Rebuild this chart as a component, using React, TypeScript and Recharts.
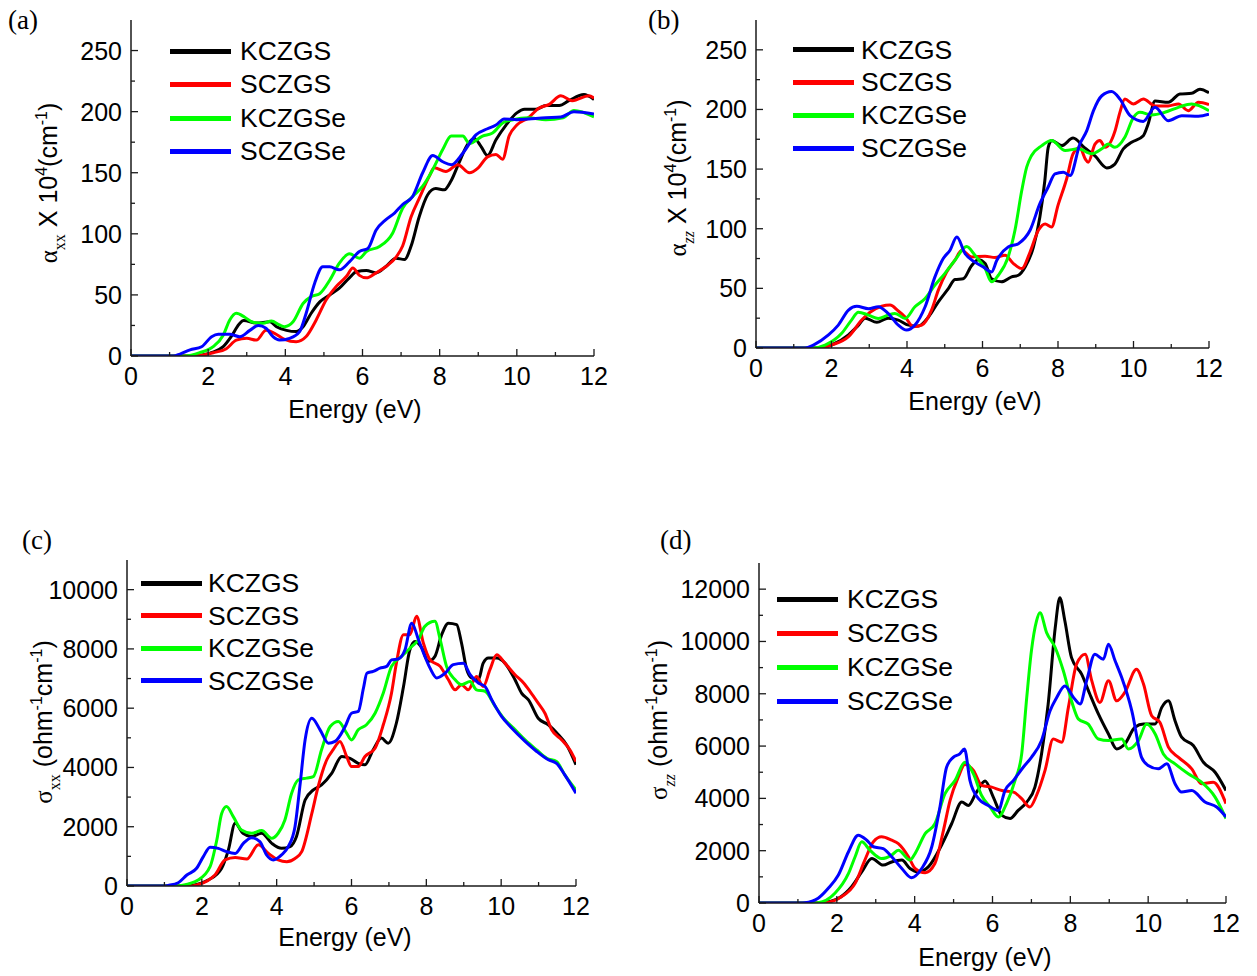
import React from 'react';
import { LineChart, Line, XAxis, YAxis, Legend, Label } from 'recharts';

type Pt = [number, number];

// ---------- shared labels ----------
const seriesNames = ['KCZGS', 'SCZGS', 'KCZGSe', 'SCZGSe'];
const seriesColors = ['#000000', '#ff0000', '#00ff00', '#0000ff'];
const energyTicks = [0, 1, 2, 3, 4, 5, 6, 7, 8, 9, 10, 11, 12];
const alphaTicks = [0, 25, 50, 75, 100, 125, 150, 175, 200, 225, 250];
const sigmaXXTicks = [0, 1000, 2000, 3000, 4000, 5000, 6000, 7000, 8000, 9000, 10000];
const sigmaZZTicks = [0, 1000, 2000, 3000, 4000, 5000, 6000, 7000, 8000, 9000, 10000, 11000, 12000];

// ---------- (a) alpha_xx ----------
const aKCZGS: Pt[] = [[0,0],[1.7,0],[1.87,1],[2.1,3],[2.39,7.6],[2.6,16],[2.8,26],[2.92,29],[3.25,27],[3.6,28],[3.77,24],[4.03,21],[4.28,20],[4.46,24],[4.67,35],[4.9,44.5],[5.15,50],[5.4,55.5],[5.66,64],[5.84,69],[6.1,70],[6.35,68],[6.6,73],[6.87,80],[7.09,79],[7.26,90],[7.47,114],[7.69,132],[7.9,137],[8.12,136],[8.29,143],[8.5,158],[8.72,173],[8.9,178],[9.07,171.6],[9.24,164],[9.46,177],[9.72,189],[10.0,199],[10.2,202],[10.5,202],[10.75,205],[11.1,205],[11.35,209],[11.74,214],[12,210]];
const aSCZGS: Pt[] = [[0,0],[1.6,0],[1.9,1],[2.13,2.7],[2.47,6],[2.73,13],[3.0,14.5],[3.25,13],[3.5,21],[3.72,18.6],[3.98,13.7],[4.28,11.7],[4.54,16],[4.8,29.5],[5.06,46],[5.32,57],[5.58,65],[5.75,72],[5.92,66],[6.1,64],[6.35,68],[6.6,73],[6.87,81],[7.04,90],[7.26,114],[7.47,129],[7.73,147],[7.86,154],[8.16,151],[8.47,156.5],[8.77,150],[9.0,154],[9.24,163],[9.46,165],[9.63,161],[9.8,180],[10.0,189],[10.3,195],[10.58,203],[10.84,206],[11.14,213],[11.44,209],[11.87,213],[12,211]];
const aKCZGSe: Pt[] = [[0,0],[1.4,0],[1.78,2.7],[2.13,7.6],[2.39,17],[2.56,29.5],[2.73,35],[2.95,31.7],[3.16,27.6],[3.42,26.8],[3.64,28.7],[3.85,25.4],[3.98,24],[4.2,28],[4.46,43],[4.67,48.6],[4.89,51],[5.15,62],[5.4,76],[5.66,83.6],[5.92,80],[6.1,85.5],[6.44,89.6],[6.78,100.5],[7.04,121],[7.3,130.6],[7.56,139],[7.82,152.5],[8.08,169],[8.3,180],[8.6,180],[8.77,174],[9.11,180],[9.37,182.5],[9.63,190.7],[9.9,193.4],[10.3,195],[10.75,193.4],[11.2,195],[11.48,201],[12,195.6]];
const aSCZGSe: Pt[] = [[0,0],[1.1,0],[1.27,1.6],[1.53,5],[1.83,7.6],[2.09,15.8],[2.26,17.8],[2.56,17.8],[2.82,15.8],[3.08,21],[3.3,24.9],[3.5,22.7],[3.68,15.8],[3.85,13],[4.11,14.5],[4.37,20],[4.54,35],[4.76,59.6],[4.97,73],[5.15,73],[5.4,70.5],[5.66,77],[5.92,85.5],[6.14,88],[6.35,103],[6.6,111.5],[6.83,117],[7.04,124],[7.3,130.6],[7.56,150],[7.82,164],[8.08,159],[8.3,156.5],[8.6,166],[8.94,181],[9.24,186],[9.46,189],[9.67,194],[10.0,193.4],[10.3,194],[10.75,195],[11.14,195.6],[11.48,200],[12,198]];

// ---------- (b) alpha_zz ----------
const bKCZGS: Pt[] = [[0,0],[1.7,0],[2.0,2.5],[2.45,11],[2.71,19],[2.89,25],[3.2,21.5],[3.5,25],[3.77,23.4],[4.04,19.2],[4.3,18.4],[4.57,26],[4.83,38.7],[5.1,50],[5.27,57.4],[5.49,58],[5.71,69],[5.89,74],[6.07,70.8],[6.24,58],[6.5,55.5],[6.77,59.6],[6.95,61],[7.13,68],[7.35,84.7],[7.52,109.8],[7.65,140],[7.74,168],[7.83,174],[8.1,169.7],[8.4,176],[8.7,168],[8.98,161],[9.29,151],[9.5,154],[9.73,167],[9.95,172.5],[10.26,178],[10.39,188],[10.57,207],[10.92,206],[11.23,213],[11.54,213.5],[11.76,217],[12,214]];
const bSCZGS: Pt[] = [[0,0],[1.7,0],[2.0,2.5],[2.45,9.5],[2.8,23.4],[3.02,30],[3.33,35],[3.55,36],[3.77,31],[3.95,26],[4.17,17.8],[4.39,19.2],[4.65,31.8],[4.83,48.5],[5.05,63.8],[5.27,73.6],[5.45,82],[5.71,76.4],[6.07,77],[6.33,75.8],[6.6,77.8],[6.82,70.8],[7.04,66.6],[7.26,80.5],[7.48,98.7],[7.66,104],[7.83,101.5],[8.0,119.6],[8.23,141.9],[8.4,162.8],[8.58,168],[8.72,158.6],[8.8,155.8],[8.98,171],[9.11,174],[9.25,168.3],[9.51,182],[9.64,197.6],[9.77,208.7],[10.0,204.6],[10.26,208.7],[10.57,203],[10.92,203],[11.19,204.6],[11.45,199],[11.72,206],[12,204]];
const bKCZGSe: Pt[] = [[0,0],[1.5,0],[1.83,2.5],[2.27,12.3],[2.53,23.4],[2.71,30],[2.98,27.6],[3.24,24.8],[3.5,27.6],[3.68,29],[3.95,24.8],[4.21,34.6],[4.48,41.5],[4.74,52.7],[5.0,62.4],[5.27,73.6],[5.58,85],[5.8,77.8],[6.07,66.6],[6.24,55.5],[6.42,61],[6.68,76.4],[6.86,98.7],[7.04,132],[7.17,151.6],[7.3,161.4],[7.57,169.7],[7.83,174],[8.19,165.6],[8.54,167],[8.89,162.8],[9.16,167],[9.33,171],[9.51,168.3],[9.77,176.7],[10.0,193.4],[10.17,197.6],[10.48,195.4],[10.83,197.6],[11.19,201.8],[11.54,204.6],[12,199]];
const bSCZGSe: Pt[] = [[0,0],[1.3,0],[1.52,2.5],[1.92,11],[2.18,19.2],[2.45,31.8],[2.67,35],[2.98,33],[3.24,34.6],[3.5,29],[3.77,19.2],[3.99,15],[4.21,19.2],[4.48,34.6],[4.74,59.6],[4.96,75],[5.14,82],[5.32,93],[5.54,79],[5.8,72],[6.02,68],[6.24,63.8],[6.38,73.6],[6.68,84.7],[6.95,87.5],[7.26,98.7],[7.52,121],[7.74,135],[7.92,146],[8.14,147.4],[8.32,144.6],[8.58,171],[8.76,182],[8.94,199],[9.16,211.5],[9.42,215],[9.64,208.7],[9.91,194.8],[10.26,190],[10.57,201.8],[10.92,190.6],[11.28,194.8],[11.72,194.3],[12,196]];

// ---------- (c) sigma_xx ----------
const cKCZGS: Pt[] = [[0,0],[1.6,0],[1.73,20],[2.17,200],[2.53,600],[2.71,1220],[2.89,2120],[3.1,1780],[3.33,1670],[3.6,1780],[3.87,1440],[4.13,1270],[4.36,1330],[4.53,1670],[4.76,2900],[4.98,3240],[5.2,3410],[5.47,3800],[5.74,4370],[5.96,4310],[6.18,4140],[6.36,4090],[6.58,4600],[6.8,4990],[6.98,4820],[7.2,5500],[7.39,6730],[7.56,7970],[7.7,8250],[7.88,8030],[8.05,7580],[8.23,7750],[8.41,8480],[8.59,8870],[8.81,8820],[8.94,8200],[9.08,7300],[9.21,7020],[9.39,6960],[9.52,7520],[9.66,7690],[9.88,7690],[10.1,7520],[10.37,6960],[10.55,6500],[10.73,6280],[10.99,5660],[11.26,5440],[11.53,5100],[11.75,4760],[12,4090]];
const cSCZGS: Pt[] = [[0,0],[1.7,0],[1.82,20],[2.35,370],[2.62,880],[2.89,960],[3.2,910],[3.51,1390],[3.78,1100],[4.04,880],[4.27,820],[4.49,930],[4.67,1160],[4.94,2450],[5.11,3360],[5.34,4260],[5.51,4600],[5.69,4880],[5.87,4370],[6.0,4030],[6.18,4030],[6.36,4370],[6.63,4650],[6.85,5440],[7.07,6510],[7.2,7520],[7.39,8480],[7.56,8480],[7.74,9100],[7.92,8200],[8.1,7630],[8.37,7410],[8.59,6960],[8.77,6620],[8.94,6790],[9.12,6620],[9.34,7070],[9.52,6730],[9.7,7300],[9.88,7800],[10.1,7520],[10.37,7130],[10.6,6850],[10.77,6570],[10.99,6170],[11.17,5830],[11.35,5270],[11.62,4930],[11.84,4590],[12,4200]];
const cKCZGSe: Pt[] = [[0,0],[1.35,0],[1.46,20],[1.9,200],[2.22,650],[2.4,1550],[2.53,2450],[2.66,2680],[2.84,2340],[3.06,1890],[3.33,1780],[3.6,1870],[3.87,1610],[4.04,1780],[4.22,2230],[4.4,3130],[4.58,3580],[4.8,3640],[4.98,3690],[5.2,4600],[5.43,5380],[5.65,5550],[5.87,5160],[6.0,4930],[6.18,5270],[6.4,5440],[6.63,5830],[6.85,6510],[7.07,7410],[7.34,7750],[7.61,8080],[7.79,8310],[7.96,8760],[8.23,8930],[8.37,8310],[8.54,7410],[8.77,6960],[8.94,6790],[9.17,6900],[9.34,6620],[9.57,6570],[9.84,6060],[10.1,5610],[10.33,5330],[10.64,4930],[10.95,4590],[11.22,4310],[11.48,4200],[11.7,3750],[12,3240]];
const cSCZGSe: Pt[] = [[0,0],[1.0,0],[1.1,20],[1.37,110],[1.6,370],[1.86,600],[2.04,990],[2.22,1310],[2.44,1270],[2.66,1160],[2.89,1100],[3.11,1440],[3.33,1630],[3.55,1500],[3.73,1050],[3.91,880],[4.13,1050],[4.31,1330],[4.49,2000],[4.62,3360],[4.76,4930],[4.94,5660],[5.16,5270],[5.38,4820],[5.56,4880],[5.83,5380],[6.0,5830],[6.18,5890],[6.32,6680],[6.41,7180],[6.58,7240],[6.76,7350],[6.94,7410],[7.07,7630],[7.25,7660],[7.43,7970],[7.61,8870],[7.79,8310],[7.96,7750],[8.1,7350],[8.28,7020],[8.5,7180],[8.72,7470],[8.99,7520],[9.17,7130],[9.39,6850],[9.57,6730],[9.75,6280],[10.01,5720],[10.28,5330],[10.64,4880],[10.95,4540],[11.26,4260],[11.48,4140],[11.7,3750],[12,3130]];

// ---------- (d) sigma_zz ----------
const dKCZGS: Pt[] = [[0,0],[1.5,0],[1.61,10],[2.04,180],[2.38,620],[2.64,1190],[2.9,1700],[3.19,1450],[3.41,1570],[3.67,1640],[3.88,1320],[4.09,1190],[4.35,1380],[4.69,2210],[4.95,3030],[5.21,3860],[5.38,3730],[5.59,4240],[5.81,4660],[6.02,4050],[6.24,3350],[6.45,3230],[6.66,3540],[6.88,3860],[7.09,4430],[7.26,5700],[7.43,7600],[7.61,10500],[7.73,11670],[7.86,10780],[8.03,9380],[8.29,8750],[8.5,7990],[8.72,7230],[8.98,6460],[9.19,5890],[9.4,6080],[9.66,6720],[9.88,6840],[10.18,6840],[10.35,7480],[10.52,7730],[10.69,6970],[10.86,6340],[11.16,6020],[11.42,5380],[11.72,5000],[12,4300]];
const dSCZGS: Pt[] = [[0,0],[1.6,0],[1.7,10],[2.12,240],[2.47,750],[2.72,1640],[2.94,2340],[3.15,2530],[3.41,2400],[3.58,2270],[3.84,1770],[4.01,1320],[4.27,1160],[4.52,1510],[4.74,2780],[4.91,3920],[5.12,4810],[5.29,5300],[5.51,5070],[5.72,4500],[5.98,4430],[6.24,4300],[6.54,4240],[6.75,3990],[6.96,3670],[7.13,4110],[7.35,5070],[7.56,6270],[7.78,6150],[7.95,7480],[8.16,9130],[8.38,9510],[8.55,8500],[8.76,7670],[8.98,8500],[9.19,7730],[9.4,8050],[9.7,8940],[9.88,8370],[10.09,7160],[10.3,6910],[10.52,5960],[10.78,5570],[11.12,5130],[11.37,4560],[11.67,4620],[12,3800]];
const dKCZGSe: Pt[] = [[0,0],[1.4,0],[1.52,10],[1.95,370],[2.3,1130],[2.47,1770],[2.64,2340],[2.85,2020],[3.15,1700],[3.41,1830],[3.58,2020],[3.88,1640],[4.01,1890],[4.27,2650],[4.52,3030],[4.78,4180],[5.04,4690],[5.29,5380],[5.51,4940],[5.72,4110],[5.94,3670],[6.15,3290],[6.36,3800],[6.58,4690],[6.75,5700],[6.88,7860],[7.0,9640],[7.13,10780],[7.22,11100],[7.39,10340],[7.61,9770],[7.82,8880],[8.03,7730],[8.21,7030],[8.46,6840],[8.72,6270],[8.98,6210],[9.32,6270],[9.49,5890],[9.75,6210],[9.96,6840],[10.18,6460],[10.39,5700],[10.69,5320],[11.03,4940],[11.37,4620],[11.72,4050],[12,3230]];
const dSCZGSe: Pt[] = [[0,0],[1.05,0],[1.18,10],[1.52,180],[1.78,560],[2.04,1070],[2.3,1960],[2.55,2590],[2.77,2400],[2.94,2150],[3.19,2080],[3.41,1770],[3.67,1320],[3.92,970],[4.18,1320],[4.44,2150],[4.65,3670],[4.82,5190],[4.99,5570],[5.16,5700],[5.28,5890],[5.42,4690],[5.64,3990],[5.89,3730],[6.15,3540],[6.32,4300],[6.54,4690],[6.79,5190],[7.0,5570],[7.26,6210],[7.48,7350],[7.65,7860],[7.86,8300],[8.08,7860],[8.25,7610],[8.42,8500],[8.63,9510],[8.85,9320],[8.98,9890],[9.15,9260],[9.32,8620],[9.58,7350],[9.83,5570],[10.0,5260],[10.26,5130],[10.48,5320],[10.69,4560],[10.86,4240],[11.12,4300],[11.46,3860],[11.76,3670],[12,3290]];

// ---------- styling ----------
const SANS = "'Liberation Sans', Arial, sans-serif";
const SERIF = "'Liberation Serif', 'DejaVu Serif', serif";
const AXIS = '#1a1a1a';
const Y_LEFT = 125; // y-axis band width in chart
const M_TOP = 20;
const M_RIGHT = 20;
const X_BAND = 80;

type TitlePart = { t: string; k?: 'sub' | 'sup' | 'sym' };

interface PanelCfg {
  letter: string;
  letterX: number;
  letterY: number;
  plotLeft: number;
  plotRight: number;
  plotTop: number;
  plotBottom: number;
  yMax: number;
  yTicks: number[];
  labelEvery: number;
  series: Pt[][];
  legend: { lineX: number; textX: number; row0: number; step: number };
  yTitle: { x: number; cy: number; size: number; parts: TitlePart[] };
  xTitle: { cx: number; baseline: number };
}

const alphaXX: TitlePart[] = [
  { t: 'α', k: 'sym' }, { t: 'xx', k: 'sub' }, { t: ' X 10' }, { t: '4', k: 'sup' }, { t: '(cm' }, { t: '-1', k: 'sup' }, { t: ')' },
];
const alphaZZ: TitlePart[] = [
  { t: 'α', k: 'sym' }, { t: 'zz', k: 'sub' }, { t: ' X 10' }, { t: '4', k: 'sup' }, { t: '(cm' }, { t: '-1', k: 'sup' }, { t: ')' },
];
const sigmaXX: TitlePart[] = [
  { t: 'σ', k: 'sym' }, { t: 'xx', k: 'sub' }, { t: ' (ohm' }, { t: '-1', k: 'sup' }, { t: 'cm' }, { t: '-1', k: 'sup' }, { t: ')' },
];
const sigmaZZ: TitlePart[] = [
  { t: 'σ', k: 'sym' }, { t: 'zz', k: 'sub' }, { t: ' (ohm' }, { t: '-1', k: 'sup' }, { t: 'cm' }, { t: '-1', k: 'sup' }, { t: ')' },
];

const panels: PanelCfg[] = [
  {
    letter: '(a)', letterX: 8, letterY: 20,
    plotLeft: 131, plotRight: 594, plotTop: 20, plotBottom: 356,
    yMax: 275, yTicks: alphaTicks, labelEvery: 50,
    series: [aKCZGS, aSCZGS, aKCZGSe, aSCZGSe],
    legend: { lineX: 170, textX: 240, row0: 51.7, step: 33.3 },
    yTitle: { x: 57, cy: 183, size: 25, parts: alphaXX },
    xTitle: { cx: 355, baseline: 418 },
  },
  {
    letter: '(b)', letterX: 648, letterY: 20,
    plotLeft: 756, plotRight: 1209, plotTop: 20, plotBottom: 348,
    yMax: 275, yTicks: alphaTicks, labelEvery: 50,
    series: [bKCZGS, bSCZGS, bKCZGSe, bSCZGSe],
    legend: { lineX: 793, textX: 861, row0: 50, step: 32.8 },
    yTitle: { x: 686, cy: 178, size: 25, parts: alphaZZ },
    xTitle: { cx: 975, baseline: 410 },
  },
  {
    letter: '(c)', letterX: 22, letterY: 540,
    plotLeft: 127, plotRight: 576, plotTop: 560, plotBottom: 886,
    yMax: 11000, yTicks: sigmaXXTicks, labelEvery: 2000,
    series: [cKCZGS, cSCZGS, cKCZGSe, cSCZGSe],
    legend: { lineX: 141, textX: 208, row0: 583.3, step: 32.5 },
    yTitle: { x: 52, cy: 722, size: 25, parts: sigmaXX },
    xTitle: { cx: 345, baseline: 946 },
  },
  {
    letter: '(d)', letterX: 660, letterY: 540,
    plotLeft: 759, plotRight: 1226, plotTop: 563, plotBottom: 903,
    yMax: 13000, yTicks: sigmaZZTicks, labelEvery: 2000,
    series: [dKCZGS, dSCZGS, dKCZGSe, dSCZGSe],
    legend: { lineX: 777, textX: 847, row0: 600, step: 33.9 },
    yTitle: { x: 667, cy: 720, size: 25, parts: sigmaZZ },
    xTitle: { cx: 985, baseline: 966 },
  },
];

const toRows = (pts: Pt[]) => pts.map(([e, v]) => ({ e, v }));

function makeXTick() {
  return (props: any) => {
    const { x, y, payload } = props;
    const v = payload.value as number;
    const major = v % 2 === 0;
    return (
      <g>
        <line x1={x} x2={x} y1={y} y2={y - (major ? 7 : 4)} stroke={AXIS} strokeWidth={1.3} />
        {major && (
          <text x={x} y={y + 29} textAnchor="middle" fontSize={25} fontFamily={SANS} fill="#000">
            {v}
          </text>
        )}
      </g>
    );
  };
}

function makeYTick(every: number) {
  return (props: any) => {
    const { x, y, payload } = props;
    const v = payload.value as number;
    const major = v % every === 0;
    return (
      <g>
        <line x1={x} x2={x + (major ? 7 : 4)} y1={y} y2={y} stroke={AXIS} strokeWidth={1.3} />
        {major && (
          <text x={x - 9} y={y + 9} textAnchor="end" fontSize={25} fontFamily={SANS} fill="#000">
            {v}
          </text>
        )}
      </g>
    );
  };
}

function YTitle({ x, y, size, parts }: { x: number; y: number; size: number; parts: TitlePart[] }) {
  const small = Math.round(size * 0.65);
  const spans: React.ReactNode[] = [];
  let shift = 0;
  parts.forEach((p, i) => {
    let target = 0;
    let fs = size;
    let ff = SANS;
    if (p.k === 'sub') { target = size * 0.3; fs = small; ff = SERIF; }
    if (p.k === 'sup') { target = -size * 0.42; fs = small; }
    if (p.k === 'sym') { ff = SERIF; }
    const dy = target - shift;
    shift = target;
    spans.push(
      <tspan key={i} dy={dy} fontSize={fs} fontFamily={ff} fontStyle={p.k === 'sub' && p.t === 'zz' ? 'italic' : 'normal'}>
        {p.t}
      </tspan>
    );
  });
  return (
    <text x={x} y={y} transform={`rotate(-90, ${x}, ${y})`} textAnchor="middle" fill="#000" fontFamily={SANS} fontSize={size}>
      {spans}
    </text>
  );
}

function Panel({ cfg }: { cfg: PanelCfg }) {
  const plotW = cfg.plotRight - cfg.plotLeft;
  const plotH = cfg.plotBottom - cfg.plotTop;
  const L = cfg.plotLeft - Y_LEFT;
  const T = cfg.plotTop - M_TOP;
  const W = plotW + Y_LEFT + M_RIGHT;
  const H = plotH + M_TOP + X_BAND;

  const legendContent = () => (
    <div style={{ fontFamily: SANS, fontSize: 25, color: '#000' }}>
      {seriesNames.map((name, i) => (
        <div key={name} style={{ position: 'relative', height: cfg.legend.step, whiteSpace: 'nowrap' }}>
          <div
            style={{
              position: 'absolute',
              left: 0,
              top: cfg.legend.step / 2 - 2.5,
              width: 61,
              height: 5,
              background: seriesColors[i],
            }}
          />
          <span
            style={{
              position: 'absolute',
              left: cfg.legend.textX - cfg.legend.lineX,
              top: 0,
              lineHeight: `${cfg.legend.step}px`,
              transform: 'scaleX(1.06)',
              transformOrigin: 'left center',
            }}
          >
            {name}
          </span>
        </div>
      ))}
    </div>
  );

  return (
    <div style={{ position: 'absolute', left: L, top: T, width: W, height: H }}>
      <LineChart width={W} height={H} margin={{ top: M_TOP, right: M_RIGHT, bottom: 0, left: 0 }}>
        <XAxis
          dataKey="e"
          type="number"
          domain={[0, 12]}
          ticks={energyTicks}
          interval={0}
          allowDataOverflow
          height={X_BAND}
          tickSize={0}
          tickMargin={0}
          tickLine={false}
          axisLine={{ stroke: AXIS, strokeWidth: 1.5 }}
          tick={makeXTick()}
        >
          <Label
            content={() => (
              <text
                x={cfg.xTitle.cx - L}
                y={cfg.xTitle.baseline - T}
                textAnchor="middle"
                fontSize={25}
                fontFamily={SANS}
                fill="#000"
              >
                Energy (eV)
              </text>
            )}
          />
        </XAxis>
        <XAxis
          xAxisId="top"
          orientation="top"
          type="number"
          domain={[0, 12]}
          height={0}
          tick={false}
          tickLine={false}
          axisLine={{ stroke: AXIS, strokeWidth: 1.5 }}
        />
        <YAxis
          type="number"
          domain={[0, cfg.yMax]}
          ticks={cfg.yTicks}
          interval={0}
          allowDataOverflow
          width={Y_LEFT}
          tickSize={0}
          tickMargin={0}
          tickLine={false}
          axisLine={{ stroke: AXIS, strokeWidth: 1.5 }}
          tick={makeYTick(cfg.labelEvery)}
        >
          <Label
            content={() => (
              <YTitle x={cfg.yTitle.x - L} y={cfg.yTitle.cy - T} size={cfg.yTitle.size} parts={cfg.yTitle.parts} />
            )}
          />
        </YAxis>
        <YAxis
          yAxisId="right"
          orientation="right"
          type="number"
          domain={[0, cfg.yMax]}
          width={0}
          tick={false}
          tickLine={false}
          axisLine={{ stroke: AXIS, strokeWidth: 1.5 }}
        />
        {cfg.series.map((s, i) => (
          <Line
            key={seriesNames[i]}
            data={toRows(s)}
            dataKey="v"
            name={seriesNames[i]}
            type="monotone"
            stroke={seriesColors[i]}
            strokeWidth={3}
            dot={false}
            activeDot={false}
            isAnimationActive={false}
          />
        ))}
        <Legend
          layout="vertical"
          align="center"
          verticalAlign="middle"
          content={legendContent}
          wrapperStyle={{
            left: cfg.legend.lineX - L,
            top: cfg.legend.row0 - cfg.legend.step / 2 - T,
            width: 220,
            height: cfg.legend.step * 4,
          }}
        />
      </LineChart>
    </div>
  );
}

export default function App() {
  return (
    <div style={{ position: 'absolute', left: 0, top: 0, width: 1257, height: 976, background: '#fff', overflow: 'hidden' }}>
      {panels.map((p) => (
        <div
          key={p.letter}
          style={{
            position: 'absolute',
            left: p.letterX,
            top: p.letterY - 15,
            fontFamily: SERIF,
            fontSize: 27,
            lineHeight: '30px',
            color: '#000',
          }}
        >
          {p.letter}
        </div>
      ))}
      {panels.map((p) => (
        <Panel key={p.letter + 'chart'} cfg={p} />
      ))}
    </div>
  );
}
